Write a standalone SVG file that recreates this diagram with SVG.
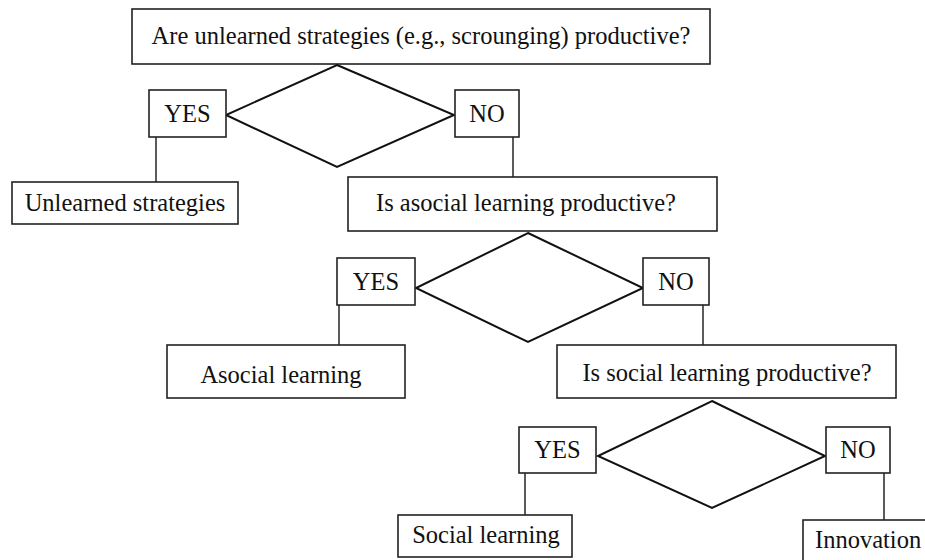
<svg xmlns="http://www.w3.org/2000/svg" width="925" height="560" viewBox="0 0 925 560">
<style>
.box{fill:#fff;stroke:#222;stroke-width:1.6}
.dia{fill:none;stroke:#111;stroke-width:2}
.con{stroke:#333;stroke-width:1.6;fill:none}
text{font-family:"Liberation Serif","Times New Roman",serif;font-size:24.5px;fill:#111}
.c{text-anchor:middle}
</style>
<rect width="925" height="560" fill="#fff"/>
<g id="connectors">
<line class="con" x1="156" y1="137" x2="156" y2="182"/>
<line class="con" x1="513" y1="137" x2="513" y2="177"/>
<line class="con" x1="339" y1="305" x2="339" y2="345"/>
<line class="con" x1="703" y1="305" x2="703" y2="345"/>
<line class="con" x1="525" y1="473" x2="525" y2="515"/>
<line class="con" x1="884" y1="473" x2="884" y2="520"/>
</g>
<g id="q1">
<rect class="box" x="132" y="9" width="578" height="55"/>
<text class="c" x="421" y="44">Are unlearned strategies (e.g., scrounging) productive?</text>
</g>
<g id="d1"><polygon class="dia" points="337,65 454,115 337,167 226,115"/></g>
<g id="yes1">
<rect class="box" x="149" y="90" width="77" height="47"/>
<text class="c" x="187.5" y="122">YES</text>
</g>
<g id="no1">
<rect class="box" x="455" y="90" width="64" height="47"/>
<text class="c" x="487" y="122">NO</text>
</g>
<g id="unlearned">
<rect class="box" x="12" y="182" width="226" height="42"/>
<text class="c" x="125" y="211">Unlearned strategies</text>
</g>
<g id="q2">
<rect class="box" x="348" y="177" width="369" height="54"/>
<text class="c" x="526" y="211">Is asocial learning productive?</text>
</g>
<g id="d2"><polygon class="dia" points="528,233 643,288 528,342 416,288"/></g>
<g id="yes2">
<rect class="box" x="337" y="258" width="78" height="47"/>
<text class="c" x="376" y="290">YES</text>
</g>
<g id="no2">
<rect class="box" x="643" y="258" width="66" height="47"/>
<text class="c" x="676" y="290">NO</text>
</g>
<g id="asocial">
<rect class="box" x="167" y="345" width="238" height="53"/>
<text class="c" x="281" y="383">Asocial learning</text>
</g>
<g id="q3">
<rect class="box" x="557" y="345" width="339" height="53"/>
<text class="c" x="727" y="381">Is social learning productive?</text>
</g>
<g id="d3"><polygon class="dia" points="712,401 825,456 712,508 598,456"/></g>
<g id="yes3">
<rect class="box" x="519" y="427" width="77" height="46"/>
<text class="c" x="557.5" y="458">YES</text>
</g>
<g id="no3">
<rect class="box" x="826" y="427" width="64" height="46"/>
<text class="c" x="858" y="458">NO</text>
</g>
<g id="social">
<rect class="box" x="398" y="515" width="174" height="42"/>
<text class="c" x="486" y="543">Social learning</text>
</g>
<g id="innovation">
<rect class="box" x="803" y="520" width="140" height="60"/>
<text x="815" y="548">Innovation</text>
</g>
</svg>
